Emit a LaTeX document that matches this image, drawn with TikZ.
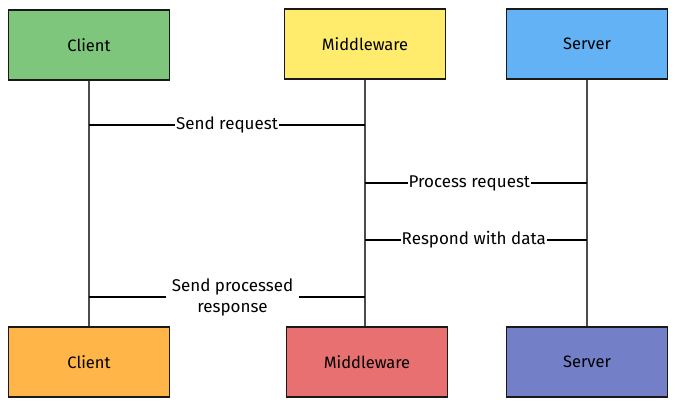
\documentclass[tikz,border=0pt]{standalone}
\usepackage{fontspec}
\setmainfont{Fira Sans}
\begin{document}
\begin{tikzpicture}[x=1pt,y=-1pt,
  actor/.style={draw=black!90, line width=1.8pt, minimum width=161pt, minimum height=70pt, inner sep=0pt, font=\fontsize{16.5}{19}\selectfont},
  life/.style={draw=black!70, line width=1.4pt},
  msg/.style={draw=black, line width=2.4pt},
  lbl/.style={fill=white, inner sep=1pt, font=\fontsize{17}{21}\selectfont, align=center}]
\useasboundingbox (0,0) rectangle (675,403);
\definecolor{cgreen}{RGB}{126,198,124}
\definecolor{cyellow}{RGB}{255,236,108}
\definecolor{cblue}{RGB}{98,178,245}
\definecolor{corange}{RGB}{255,181,72}
\definecolor{cred}{RGB}{232,112,112}
\definecolor{cindigo}{RGB}{115,128,200}
\node[actor, fill=cgreen] (ct) at (89,45) {Client};
\node[actor, fill=cyellow] (mt) at (365,44) {Middleware};
\node[actor, fill=cblue] (st) at (587,44) {Server};
\node[actor, fill=corange] (cb) at (89,362) {Client};
\node[actor, fill=cred] (mb) at (367,362) {Middleware};
\node[actor, fill=cindigo] (sb) at (587,362) {Server};
\draw[life] (ct.south) -- (cb.north);
\draw[life] (mt.south) -- (mt.south |- mb.north);
\draw[life] (st.south) -- (sb.north);
\coordinate (c1) at (89,125); \coordinate (m1) at (365,125);
\coordinate (m2) at (365,183); \coordinate (s2) at (587,183);
\coordinate (m3) at (365,240); \coordinate (s3) at (587,240);
\coordinate (c4) at (89,297); \coordinate (m4) at (365,297);
\draw[msg] (c1) -- (m1) node[lbl, pos=0.5] (l1) {Send request};
\draw[msg] (m2) -- (s2) node[lbl, pos=0.47] (l2) {Process request};
\draw[msg] (m3) -- (s3) node[lbl, pos=0.49] (l3) {Respond with data};
\draw[msg] (c4) -- (m4) node[lbl, pos=0.52, inner xsep=6pt] (l4) {Send processed\\response};
\end{tikzpicture}
\end{document}
